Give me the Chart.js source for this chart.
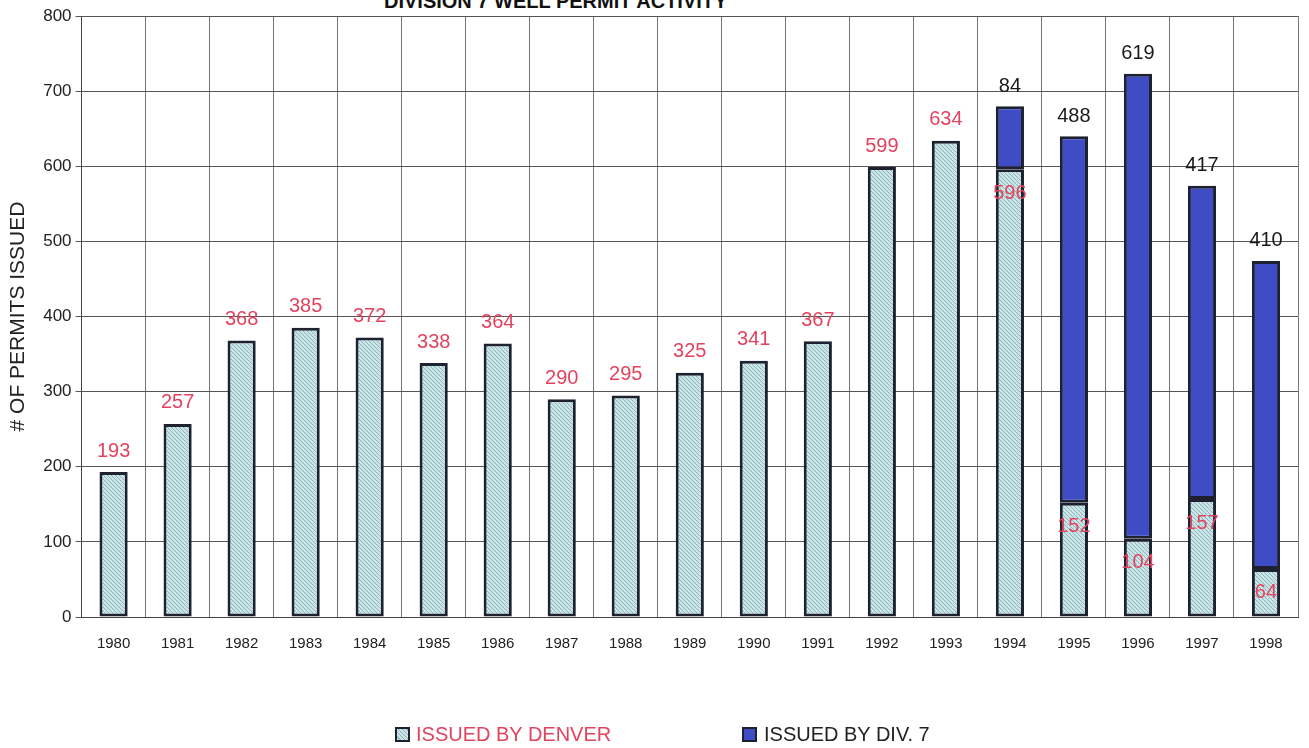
<!DOCTYPE html>
<html>
<head>
<meta charset="utf-8">
<script src="https://cdn.jsdelivr.net/npm/chart.js@4.4.0/dist/chart.umd.min.js"></script>
<style>
  body { margin: 0; background: #fff; font-family: "Liberation Sans", Arial, sans-serif; }
  #wrap { position: relative; width: 1309px; height: 748px; overflow: hidden; }
  #title { position: absolute; left: 384px; top: -9px; font-size: 20px; line-height: 20px; font-weight: bold; color: #111; white-space: nowrap; }
  canvas { position: absolute; left: 0; top: 0; }
  .lg-box { position: absolute; width: 11px; height: 11px; border: 2px solid #1e2230; }
  .lg-text { position: absolute; font-size: 20px; line-height: 20px; white-space: nowrap; }
</style>
</head>
<body>
<div id="wrap">
  <div id="title">DIVISION 7 WELL PERMIT ACTIVITY</div>
  <canvas id="chart" width="1309" height="748"></canvas>
  <div class="lg-box" id="lgDenver" style="left:395px;top:727px;"></div>
  <div class="lg-text" style="left:416px;top:724px;color:#e2435f;">ISSUED BY DENVER</div>
  <div class="lg-box" id="lgDiv7" style="left:742px;top:727px;background:#3e4cc6;"></div>
  <div class="lg-text" style="left:764px;top:724px;color:#222;">ISSUED BY DIV. 7</div>
</div>
<script>
const years = ["1980", "1981", "1982", "1983", "1984", "1985", "1986", "1987", "1988", "1989",
  "1990", "1991", "1992", "1993", "1994", "1995", "1996", "1997", "1998"];
const issuedByDenver = [193, 257, 368, 385, 372, 338, 364, 290, 295, 325,
  341, 367, 599, 634, 596, 152, 104, 157, 64];
const issuedByDiv7 = [null, null, null, null, null, null, null, null, null, null,
  null, null, null, null, 84, 488, 619, 417, 410];
const yTicks = [0, 100, 200, 300, 400, 500, 600, 700, 800];

const RED = "#e2435f";
const BLUE = "#3e4cc6";

// light cyan fill with fine diagonal hatching
function makeHatch() {
  const c = document.createElement("canvas");
  c.width = 4;
  c.height = 4;
  const g = c.getContext("2d");
  g.fillStyle = "#c9e5e8";
  g.fillRect(0, 0, 4, 4);
  g.strokeStyle = "#8fb5bb";
  g.lineWidth = 1;
  g.beginPath();
  g.moveTo(0, 0); g.lineTo(4, 4);
  g.moveTo(-1, 3); g.lineTo(1, 5);
  g.moveTo(3, -1); g.lineTo(5, 1);
  g.stroke();
  return g.createPattern(c, "repeat");
}

const ctx = document.getElementById("chart").getContext("2d");
const hatch = makeHatch();

document.getElementById("lgDenver").style.background =
  "repeating-linear-gradient(45deg, #c9e5e8 0 2px, #8fb5bb 2px 3px)";

// value labels: Denver in red, Div. 7 in black above the stack
const valueLabels = {
  id: "valueLabels",
  afterDatasetsDraw(chart) {
    const c = chart.ctx;
    const denMeta = chart.getDatasetMeta(0);
    const divMeta = chart.getDatasetMeta(1);
    c.save();
    c.font = "20px 'Liberation Sans', Arial, sans-serif";
    c.textAlign = "center";
    c.textBaseline = "middle";
    issuedByDenver.forEach((v, i) => {
      const bar = denMeta.data[i];
      const y = issuedByDiv7[i] ? bar.y + 24 : bar.y - 21;
      c.fillStyle = RED;
      c.fillText(String(v), bar.x, y);
    });
    issuedByDiv7.forEach((v, i) => {
      if (!v) return;
      const bar = divMeta.data[i];
      c.fillStyle = "#1a1a1a";
      c.fillText(String(v), bar.x, bar.y - 20);
    });
    c.restore();
  }
};

new Chart(ctx, {
  type: "bar",
  data: {
    labels: years,
    datasets: [
      {
        label: "ISSUED BY DENVER",
        data: issuedByDenver,
        backgroundColor: hatch,
        borderColor: "#1e2230",
        borderWidth: 3,
        borderSkipped: false,
        barPercentage: 0.44,
        categoryPercentage: 1
      },
      {
        label: "ISSUED BY DIV. 7",
        data: issuedByDiv7,
        backgroundColor: BLUE,
        borderColor: "#1e2230",
        borderWidth: 3,
        borderSkipped: false,
        barPercentage: 0.44,
        categoryPercentage: 1
      }
    ]
  },
  options: {
    responsive: false,
    animation: false,
    layout: { padding: { top: 16, right: 11, bottom: 77, left: 0 } },
    plugins: {
      legend: { display: false },
      title: { display: false },
      tooltip: { enabled: false }
    },
    scales: {
      x: {
        stacked: true,
        grid: { color: "#777", lineWidth: 1, drawTicks: false, offset: true },
        border: { color: "#444" },
        ticks: {
          color: "#222",
          padding: 18,
          font: { family: "'Liberation Sans', Arial, sans-serif", size: 15 }
        }
      },
      y: {
        stacked: true,
        min: 0,
        max: 800,
        afterBuildTicks(axis) {
          axis.ticks = yTicks.map(v => ({ value: v }));
        },
        grid: { color: "#555", lineWidth: 1, tickLength: 6 },
        border: { color: "#444" },
        ticks: {
          color: "#222",
          padding: 4,
          font: { family: "'Liberation Sans', Arial, sans-serif", size: 17 }
        },
        title: {
          display: true,
          text: "# OF PERMITS ISSUED",
          color: "#222",
          padding: { top: 6, bottom: 8 },
          font: { family: "'Liberation Sans', Arial, sans-serif", size: 21 }
        }
      }
    }
  },
  plugins: [valueLabels]
});
</script>
</body>
</html>
